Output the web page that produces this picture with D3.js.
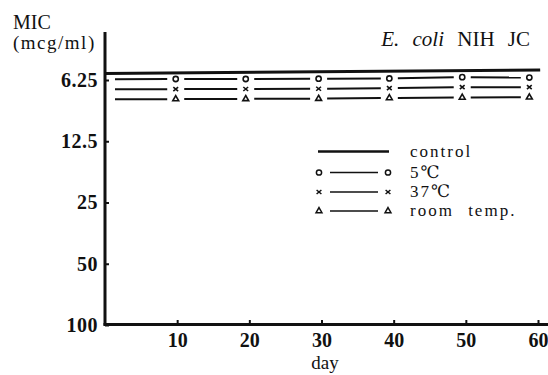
<!DOCTYPE html>
<html lang="en">
<head>
  <meta charset="UTF-8">
  <title>MIC stability - E. coli NIH JC</title>
  <style>
    body, html {
      margin: 0;
      padding: 0;
      background: #fff;
    }
    svg text {
      font-family: "Liberation Serif", "DejaVu Serif", serif;
      fill: #111;
    }
  </style>
</head>
<body>
  <svg id="svg" width="548" height="375"></svg>

  <script src="https://cdn.jsdelivr.net/npm/d3@7"></script>
  <script>
    // values
    const yTicks = [6.25, 12.5, 25, 50, 100];
    const yTickLabels = ['6.25', '12.5', '25', '50', '100'];
    const xTicks = [10, 20, 30, 40, 50, 60];

    const controlDays = [0, 60.3];
    const controlMIC = [5.8, 5.58];

    const days = [0, 9.8, 19.5, 29.6, 39.4, 49.5, 58.8];
    const mic5 = [6.2, 6.18, 6.18, 6.16, 6.14, 6.05, 6.08];
    const mic37 = [6.95, 6.93, 6.92, 6.9, 6.86, 6.78, 6.78];
    const micRoom = [7.78, 7.76, 7.74, 7.72, 7.66, 7.62, 7.6];

    const seriesNames = ['control', '5℃', '37℃', 'room temp.'];

    const svg = d3.select('#svg');

    const x = d3.scaleLinear().domain([0, 60]).range([105, 538]);
    const y = d3.scaleLog().base(2).domain([6.25, 100]).range([80, 325]);

    // axes
    const yAxis = svg.append('g')
      .attr('transform', 'translate(105,0)')
      .call(d3.axisLeft(y).tickValues(yTicks).tickSizeInner(-4).tickSizeOuter(0)
        .tickFormat((d, i) => yTickLabels[i]).tickPadding(7));
    yAxis.select('.domain').remove();
    yAxis.selectAll('.tick line').attr('stroke', '#111').attr('stroke-width', 2);
    yAxis.selectAll('.tick text')
      .style('font-size', '20px')
      .style('font-family', '"Liberation Serif", serif')
      .style('font-weight', 'bold')
      .attr('letter-spacing', 0.5)
      .attr('fill', '#111');

    const xAxis = svg.append('g')
      .attr('transform', 'translate(0,324)')
      .call(d3.axisBottom(x).tickValues(xTicks).tickSizeInner(-4).tickSizeOuter(0).tickPadding(9));
    xAxis.select('.domain').remove();
    xAxis.selectAll('.tick line').attr('stroke', '#111').attr('stroke-width', 2);
    xAxis.selectAll('.tick text')
      .style('font-size', '20px')
      .style('font-family', '"Liberation Serif", serif')
      .style('font-weight', 'bold')
      .attr('fill', '#111');

    // axis lines
    svg.append('line')
      .attr('x1', 105).attr('x2', 105).attr('y1', 32).attr('y2', 325.5)
      .attr('stroke', '#111').attr('stroke-width', 3);
    svg.append('line')
      .attr('x1', 103.5).attr('x2', 548).attr('y1', 324.5).attr('y2', 324.5)
      .attr('stroke', '#111').attr('stroke-width', 3);

    // control line
    svg.append('path')
      .datum(controlDays.map((d, i) => [d, controlMIC[i]]))
      .attr('d', d3.line().x(d => x(d[0])).y(d => y(d[1])))
      .attr('stroke', '#111')
      .attr('stroke-width', 3)
      .attr('fill', 'none');

    const symbols = {
      circle: g => g.append('circle').attr('r', 2.6),
      cross: g => g.append('path').attr('d', 'M-2.4,-2L2.4,2M-2.4,2L2.4,-2'),
      triangle: g => g.append('path').attr('d', d3.symbol(d3.symbolTriangle, 15)())
    };

    function drawSeries(values, symbol) {
      const pts = days.map((d, i) => [x(d), y(values[i])]);
      const gap = 8.5;
      const g = svg.append('g');
      for (let i = 0; i < pts.length - 1; i++) {
        const [x0, y0] = pts[i];
        const [x1, y1] = pts[i + 1];
        const len = Math.hypot(x1 - x0, y1 - y0);
        const ux = (x1 - x0) / len, uy = (y1 - y0) / len;
        const g0 = i === 0 ? 10 : gap;
        g.append('line')
          .attr('x1', x0 + ux * g0).attr('y1', y0 + uy * g0)
          .attr('x2', x1 - ux * gap).attr('y2', y1 - uy * gap)
          .attr('stroke', '#111').attr('stroke-width', 2);
      }
      pts.slice(1).forEach(p => {
        const m = g.append('g')
          .attr('transform', `translate(${p[0]},${p[1]})`)
          .attr('fill', '#fff').attr('stroke', '#111').attr('stroke-width', 1.6);
        symbols[symbol](m);
      });
    }

    drawSeries(mic5, 'circle');
    drawSeries(mic37, 'cross');
    drawSeries(micRoom, 'triangle');

    // legend
    const legendRows = [
      { y: 151.5, symbol: null },
      { y: 172.5, symbol: 'circle' },
      { y: 192, symbol: 'cross' },
      { y: 211, symbol: 'triangle' }
    ];
    legendRows.forEach((r, i) => {
      const g = svg.append('g').attr('transform', `translate(0,${r.y})`);
      if (!r.symbol) {
        g.append('line').attr('x1', 318).attr('x2', 389).attr('y1', 0).attr('y2', 0)
          .attr('stroke', '#111').attr('stroke-width', 2.5);
      } else {
        g.append('line').attr('x1', 330).attr('x2', 378).attr('y1', 0).attr('y2', 0)
          .attr('stroke', '#111').attr('stroke-width', 1.5);
        [319, 388].forEach(px => {
          const m = g.append('g').attr('transform', `translate(${px},0)`)
            .attr('fill', '#fff').attr('stroke', '#111').attr('stroke-width', 1.5);
          symbols[r.symbol](m);
        });
      }
      g.append('text')
        .attr('x', 410).attr('y', 5)
        .style('font-size', '17px')
        .attr('letter-spacing', 2)
        .attr('word-spacing', 8)
        .text(seriesNames[i]);
    });

    // y axis label
    svg.append('text')
      .attr('x', 13).attr('y', 29)
      .style('font-size', '20px')
      .text('MIC');
    svg.append('text')
      .attr('x', 13).attr('y', 49)
      .style('font-size', '19px')
      .attr('letter-spacing', 1.5)
      .text('(mcg/ml)');

    // x axis label
    svg.append('text')
      .attr('x', 325).attr('y', 369)
      .attr('text-anchor', 'middle')
      .style('font-size', '19px')
      .text('day');

    // title
    const title = svg.append('text')
      .attr('x', 530).attr('y', 46)
      .attr('text-anchor', 'end')
      .style('font-size', '21px')
      .attr('word-spacing', 8);
    title.append('tspan').style('font-style', 'italic').text('E. coli');
    title.append('tspan').text(' NIH JC');
  </script>
</body>
</html>
